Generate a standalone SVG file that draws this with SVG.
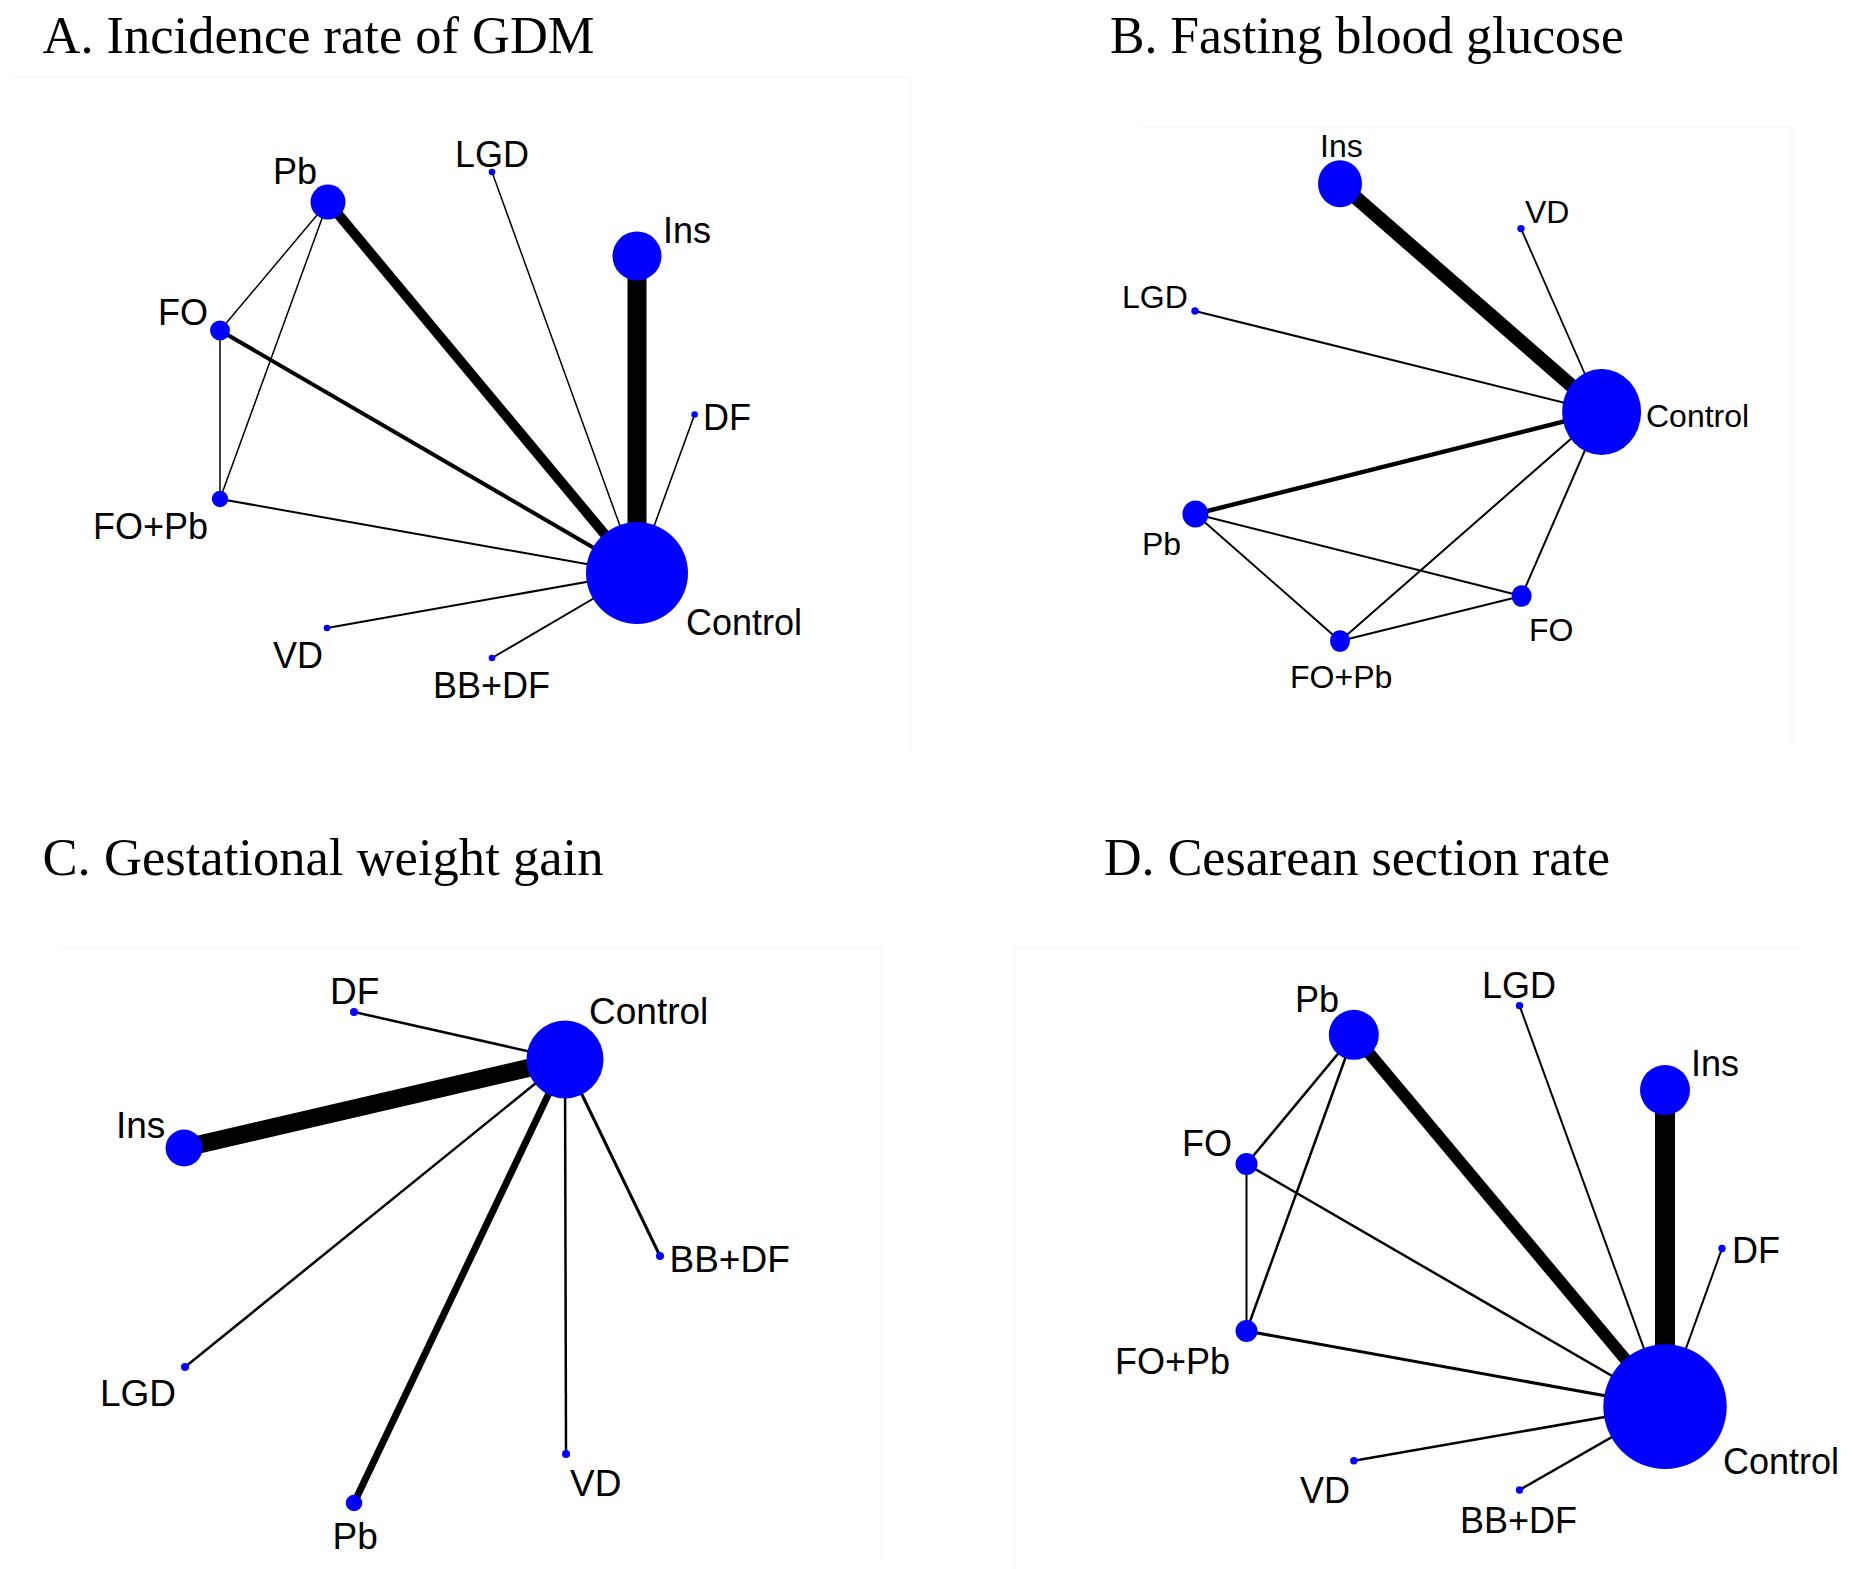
<svg xmlns="http://www.w3.org/2000/svg" width="1856" height="1569" viewBox="0 0 1856 1569">
<style>
.title{font-family:"Liberation Serif","Times New Roman",serif;font-size:53px;fill:#000}
.lbl{font-family:"Liberation Sans",Arial,sans-serif;font-size:36px;fill:#000}
.lblB{font-size:32px}
.lblC{font-size:37px}
.n{fill:#0000ff}
.e{stroke:#000;fill:none}
.frame{stroke:#f6f6f6;stroke-width:1.2;fill:none}
</style>
<rect width="1856" height="1569" fill="#fff"/>
<g id="frames">
<path class="frame" d="M13,77 H911 V751"/>
<path class="frame" d="M1140,127 H1792 V746"/>
<path class="frame" d="M60,948 H881 V1560"/>
<path class="frame" d="M1015,1569 V948 H1800"/>
</g>
<g id="titles">
<text class="title" x="42.5" y="53" textLength="552" lengthAdjust="spacingAndGlyphs">A. Incidence rate of GDM</text>
<text class="title" x="1110" y="53" textLength="514" lengthAdjust="spacingAndGlyphs">B. Fasting blood glucose</text>
<text class="title" x="42.5" y="875" textLength="561" lengthAdjust="spacingAndGlyphs">C. Gestational weight gain</text>
<text class="title" x="1104" y="875" textLength="506" lengthAdjust="spacingAndGlyphs">D. Cesarean section rate</text>
</g>
<g id="connectors">
<g id="edges-A">
<line class="e" x1="328" y1="202" x2="220" y2="330.5" stroke-width="1.5"/>
<line class="e" x1="328" y1="202" x2="220" y2="499" stroke-width="1.5"/>
<line class="e" x1="220" y1="330.5" x2="220" y2="499" stroke-width="1.5"/>
<line class="e" x1="220" y1="330.5" x2="637" y2="573" stroke-width="4"/>
<line class="e" x1="220" y1="499" x2="637" y2="573" stroke-width="2"/>
<line class="e" x1="328" y1="202" x2="637" y2="573" stroke-width="10"/>
<line class="e" x1="492" y1="172" x2="637" y2="573" stroke-width="1.5"/>
<line class="e" x1="637" y1="256" x2="637" y2="573" stroke-width="19"/>
<line class="e" x1="694.6" y1="414.5" x2="637" y2="573" stroke-width="1.6"/>
<line class="e" x1="327" y1="628" x2="637" y2="573" stroke-width="2"/>
<line class="e" x1="492" y1="658" x2="637" y2="573" stroke-width="2"/>
</g>
<g id="edges-B">
<line class="e" x1="1340" y1="183.7" x2="1601.6" y2="412" stroke-width="14"/>
<line class="e" x1="1521" y1="228.6" x2="1601.6" y2="412" stroke-width="1.8"/>
<line class="e" x1="1195" y1="311" x2="1601.6" y2="412" stroke-width="2"/>
<line class="e" x1="1195.4" y1="514" x2="1601.6" y2="412" stroke-width="4.5"/>
<line class="e" x1="1195.4" y1="514" x2="1521.6" y2="596" stroke-width="2"/>
<line class="e" x1="1195.4" y1="514" x2="1340" y2="641" stroke-width="2"/>
<line class="e" x1="1340" y1="641" x2="1601.6" y2="412" stroke-width="2"/>
<line class="e" x1="1521.6" y1="596" x2="1601.6" y2="412" stroke-width="2"/>
<line class="e" x1="1340" y1="641" x2="1521.6" y2="596" stroke-width="2"/>
</g>
<g id="edges-C">
<line class="e" x1="354" y1="1012" x2="565" y2="1059.5" stroke-width="2.5"/>
<line class="e" x1="184" y1="1148" x2="565" y2="1059.5" stroke-width="18"/>
<line class="e" x1="185" y1="1367" x2="565" y2="1059.5" stroke-width="2.5"/>
<line class="e" x1="354" y1="1503" x2="565" y2="1059.5" stroke-width="7"/>
<line class="e" x1="566" y1="1454" x2="565" y2="1059.5" stroke-width="2.5"/>
<line class="e" x1="660" y1="1256" x2="565" y2="1059.5" stroke-width="3"/>
</g>
<g id="edges-D">
<line class="e" x1="1353.8" y1="1034.8" x2="1246.5" y2="1164" stroke-width="2.5"/>
<line class="e" x1="1353.8" y1="1034.8" x2="1246.5" y2="1331" stroke-width="2.5"/>
<line class="e" x1="1246.5" y1="1164" x2="1246.5" y2="1331" stroke-width="2"/>
<line class="e" x1="1246.5" y1="1164" x2="1665" y2="1406.6" stroke-width="2.5"/>
<line class="e" x1="1246.5" y1="1331" x2="1665" y2="1406.6" stroke-width="3"/>
<line class="e" x1="1353.8" y1="1034.8" x2="1665" y2="1406.6" stroke-width="12"/>
<line class="e" x1="1519.5" y1="1005.6" x2="1665" y2="1406.6" stroke-width="2"/>
<line class="e" x1="1665" y1="1090" x2="1665" y2="1406.6" stroke-width="20"/>
<line class="e" x1="1722" y1="1248.5" x2="1665" y2="1406.6" stroke-width="2"/>
<line class="e" x1="1353.8" y1="1460.7" x2="1665" y2="1406.6" stroke-width="2.5"/>
<line class="e" x1="1519.5" y1="1490" x2="1665" y2="1406.6" stroke-width="2.5"/>
</g>
</g>
<g id="A-Pb"><circle class="n" cx="328" cy="202" r="17.5"/><text class="lbl" x="273" y="184">Pb</text></g>
<g id="A-LGD"><circle class="n" cx="492" cy="172" r="3.3"/><text class="lbl" x="455" y="167">LGD</text></g>
<g id="A-Ins"><circle class="n" cx="637" cy="256" r="24.5"/><text class="lbl" x="663" y="243">Ins</text></g>
<g id="A-FO"><circle class="n" cx="220" cy="330.5" r="10"/><text class="lbl" x="158" y="324.5">FO</text></g>
<g id="A-DF"><circle class="n" cx="694.6" cy="414.5" r="3.3"/><text class="lbl" x="703" y="430">DF</text></g>
<g id="A-FOPb"><circle class="n" cx="220" cy="499" r="8.2"/><text class="lbl" x="93" y="539">FO+Pb</text></g>
<g id="A-Control"><circle class="n" cx="637" cy="573" r="51"/><text class="lbl" x="686" y="635">Control</text></g>
<g id="A-VD"><circle class="n" cx="327" cy="628" r="3.3"/><text class="lbl" x="273" y="668">VD</text></g>
<g id="A-BBDF"><circle class="n" cx="492" cy="658" r="3.3"/><text class="lbl" x="433" y="698">BB+DF</text></g>
<g id="B-Ins"><ellipse class="n" cx="1340" cy="183.7" rx="22" ry="23.5"/><text class="lbl lblB" x="1320" y="157">Ins</text></g>
<g id="B-VD"><circle class="n" cx="1521" cy="228.6" r="3.7"/><text class="lbl lblB" x="1525" y="222.5">VD</text></g>
<g id="B-LGD"><circle class="n" cx="1195" cy="311" r="3.7"/><text class="lbl lblB" x="1122" y="308">LGD</text></g>
<g id="B-Control"><ellipse class="n" cx="1601.6" cy="412" rx="39.5" ry="43"/><text class="lbl lblB" x="1646" y="426.6">Control</text></g>
<g id="B-Pb"><ellipse class="n" cx="1195.4" cy="514" rx="13" ry="13.5"/><text class="lbl lblB" x="1142" y="555">Pb</text></g>
<g id="B-FO"><ellipse class="n" cx="1521.6" cy="596" rx="10" ry="10.8"/><text class="lbl lblB" x="1529" y="641">FO</text></g>
<g id="B-FOPb"><ellipse class="n" cx="1340" cy="641" rx="10" ry="10.8"/><text class="lbl lblB" x="1290" y="688">FO+Pb</text></g>
<g id="C-Control"><ellipse class="n" cx="565" cy="1059.5" rx="38.5" ry="39"/><text class="lbl lblC" x="589" y="1024">Control</text></g>
<g id="C-DF"><circle class="n" cx="354" cy="1012" r="4"/><text class="lbl lblC" x="330" y="1004">DF</text></g>
<g id="C-Ins"><circle class="n" cx="184" cy="1148" r="18.5"/><text class="lbl lblC" x="116" y="1138">Ins</text></g>
<g id="C-BBDF"><circle class="n" cx="660" cy="1256" r="4"/><text class="lbl lblC" x="669.5" y="1271.6">BB+DF</text></g>
<g id="C-LGD"><circle class="n" cx="185" cy="1367" r="4"/><text class="lbl lblC" x="100" y="1405.5">LGD</text></g>
<g id="C-Pb"><circle class="n" cx="354" cy="1503" r="8.3"/><text class="lbl lblC" x="332.5" y="1549">Pb</text></g>
<g id="C-VD"><circle class="n" cx="566" cy="1454" r="4"/><text class="lbl lblC" x="570" y="1496">VD</text></g>
<g id="D-Pb"><circle class="n" cx="1353.8" cy="1034.8" r="25"/><text class="lbl" x="1295" y="1012">Pb</text></g>
<g id="D-LGD"><circle class="n" cx="1519.5" cy="1005.6" r="3.7"/><text class="lbl" x="1482" y="997.6">LGD</text></g>
<g id="D-Ins"><circle class="n" cx="1665" cy="1090" r="25"/><text class="lbl" x="1691" y="1075.7">Ins</text></g>
<g id="D-FO"><circle class="n" cx="1246.5" cy="1164" r="11"/><text class="lbl" x="1182" y="1156">FO</text></g>
<g id="D-DF"><circle class="n" cx="1722" cy="1248.5" r="3.7"/><text class="lbl" x="1732" y="1263">DF</text></g>
<g id="D-FOPb"><circle class="n" cx="1246.5" cy="1331" r="11"/><text class="lbl" x="1115" y="1373.7">FO+Pb</text></g>
<g id="D-Control"><ellipse class="n" cx="1665" cy="1406.6" rx="61.7" ry="62.4"/><text class="lbl" x="1723" y="1474">Control</text></g>
<g id="D-VD"><circle class="n" cx="1353.8" cy="1460.7" r="3.7"/><text class="lbl" x="1300" y="1503">VD</text></g>
<g id="D-BBDF"><circle class="n" cx="1519.5" cy="1490" r="3.7"/><text class="lbl" x="1460" y="1533">BB+DF</text></g>
</svg>
